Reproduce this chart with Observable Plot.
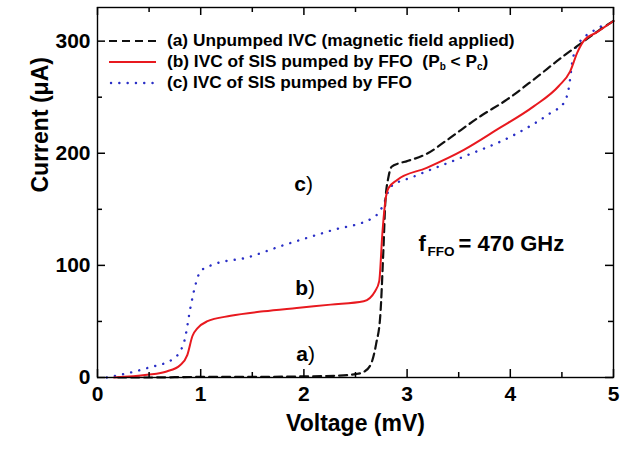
<!DOCTYPE html>
<html>
<head>
<meta charset="utf-8">
<script src="https://cdn.jsdelivr.net/npm/d3@7"></script>
<script src="https://cdn.jsdelivr.net/npm/@observablehq/plot@0.6"></script>
<style>
  body { margin: 0; background: #fff; }
  #wrap { position: relative; width: 632px; height: 450px; font-family: "Liberation Sans", Arial, sans-serif; font-weight: bold; color: #000; }
  #legend { position: absolute; left: 109px; top: 30px; font-size: 17.3px; line-height: 21px; }
  .row { display: flex; align-items: center; height: 21px; white-space: pre; }
  .row svg { width: 47px; height: 10px; margin-right: 11px; flex: none; }
  sub { font-size: 10px; vertical-align: -3px; line-height: 0; }
</style>
</head>
<body>
<div id="wrap">
  <div id="chart"></div>
  <div id="legend"></div>
</div>
<script>
// ---- Data ----
// (a) Unpumped IVC (magnetic field applied)
const voltsA = [0.2, 0.5, 1.0, 1.5, 2.0, 2.3, 2.5, 2.58, 2.65, 2.70, 2.74, 2.77, 2.79, 2.82, 2.85, 2.92, 3.0, 3.2, 3.39, 3.71, 3.97, 4.23, 4.52, 4.70, 4.85, 5.0];
const currA = [0, 0, 0.5, 0.5, 1, 1.5, 3, 5, 12, 30, 55, 113, 158, 179, 188, 191, 193, 200, 212, 233, 248, 266, 287, 299, 309, 318];
// (b) IVC of SIS pumped by FFO (Pb < Pc)
const voltsB = [0.16, 0.48, 0.67, 0.80, 0.87, 0.92, 0.97, 1.06, 1.29, 1.61, 1.93, 2.26, 2.58, 2.69, 2.73, 2.76, 2.79, 2.82, 2.90, 3.19, 3.55, 3.87, 4.23, 4.47, 4.58, 4.65, 4.71, 4.84, 5.0];
const currB = [0, 2.4, 5.4, 11, 20, 37, 44, 50, 55, 59, 62, 65, 68, 77, 86, 128, 158, 169, 176, 187, 203, 221, 242, 260, 273, 290, 300, 308, 318];
// (c) IVC of SIS pumped by FFO
const voltsC = [0.09, 0.48, 0.74, 0.84, 0.90, 0.95, 1.0, 1.13, 1.45, 1.77, 2.26, 2.68, 2.77, 2.84, 3.06, 3.55, 4.03, 4.39, 4.52, 4.57, 4.60, 4.64, 4.70, 4.84, 4.92];
const currC = [0, 8.4, 17, 32, 62, 83, 95, 101, 107, 117, 131, 143, 154, 170, 179, 197, 216, 236, 245, 260, 281, 295, 302, 311, 315];

const xTicks = [0, 1, 2, 3, 4, 5];
const xMinor = [0.5, 1.5, 2.5, 3.5, 4.5];
const yTicks = [0, 100, 200, 300];
const yMinor = [50, 150, 250];

const curveLabels = ["a", "b", "c"];
const curveLabelX = [2.04, 2.04, 2.02];
const curveLabelY = [21, 80, 172];

const freqX = 3.11, freqY = 119.5;
const legendLabels = [
  "(a) Unpumped IVC (magnetic field applied)",
  "(b) IVC of SIS pumped by FFO  (P<sub>b</sub> &lt; P<sub>c</sub>)",
  "(c) IVC of SIS pumped by FFO"
];

const colA = "#111111", colB = "#e8191f", colC = "#2a2fc6";

const toRows = (xs, ys) => xs.map((v, i) => ({v, c: ys[i]}));
const dataA = toRows(voltsA, currA);
const dataB = toRows(voltsB, currB);
const dataC = toRows(voltsC, currC);
const labelRows = curveLabels.map((t, i) => ({t, x: curveLabelX[i], y: curveLabelY[i]}));

const font = "Liberation Sans, Arial, sans-serif";

// plot geometry
const W = 632, H = 450, mL = 97, mR = 19, mT = 7, mB = 73;
const xDom = [0, 5], yDom = [0, 330];
const pxX = (xDom[1] - xDom[0]) / (W - mL - mR); // data units per pixel
const pxY = (yDom[1] - yDom[0]) / (H - mT - mB);

// inward ticks on all four sides (length in pixels, converted to data units)
const tickStyle = {stroke: "#000", strokeWidth: 1.5};
const xInTicks = (vals, len) => [
  Plot.ruleX(vals, {x: d => d, y1: yDom[0], y2: yDom[0] + len * pxY, ...tickStyle}),
  Plot.ruleX(vals, {x: d => d, y1: yDom[1], y2: yDom[1] - len * pxY, ...tickStyle})
];
const yInTicks = (vals, len) => [
  Plot.ruleY(vals, {y: d => d, x1: xDom[0], x2: xDom[0] + len * pxX, ...tickStyle}),
  Plot.ruleY(vals, {y: d => d, x1: xDom[1], x2: xDom[1] - len * pxX, ...tickStyle})
];

const chart = Plot.plot({
  width: W,
  height: H,
  marginLeft: mL,
  marginRight: mR,
  marginTop: mT,
  marginBottom: mB,
  x: {domain: xDom},
  y: {domain: yDom},
  style: {fontFamily: font, fontWeight: "bold", color: "#000", background: "#fff", overflow: "visible"},
  marks: [
    Plot.line(dataC, {x: "v", y: "c", stroke: colC, strokeWidth: 2.4, strokeDasharray: "0.1,8.2", strokeLinecap: "round", curve: "monotone-x"}),
    Plot.line(dataA, {x: "v", y: "c", stroke: colA, strokeWidth: 2.2, strokeDasharray: "8,5", curve: "monotone-x"}),
    Plot.line(dataB, {x: "v", y: "c", stroke: colB, strokeWidth: 2, curve: "monotone-x"}),

    Plot.text(labelRows, {x: "x", y: "y", text: "t", textAnchor: "end", fontSize: 21, fontWeight: "bold"}),
    Plot.text(labelRows, {x: "x", y: "y", text: () => ")", textAnchor: "start", fontSize: 21, fontWeight: "normal"}),

    Plot.text(["f"], {x: () => freqX, y: () => freqY, text: d => d, textAnchor: "start", fontSize: 22}),
    Plot.text(["FFO"], {x: () => freqX, y: () => freqY, text: d => d, textAnchor: "start", fontSize: 13.5, dx: 9, dy: 8}),
    Plot.text(["= 470 GHz"], {x: () => freqX, y: () => freqY, text: d => d, textAnchor: "start", fontSize: 22, dx: 40}),

    Plot.frame({stroke: "#000", strokeWidth: 1.4}),

    Plot.axisX(xTicks, {anchor: "bottom", tickSize: 0, tickPadding: 9, fontSize: 21, label: null}),
    Plot.axisY(yTicks, {anchor: "left", tickSize: 0, tickPadding: 7, fontSize: 21, label: null}),
    ...xInTicks(xTicks, 8),
    ...xInTicks(xMinor, 5),
    ...yInTicks(yTicks, 8),
    ...yInTicks(yMinor, 5),

    Plot.text(["Voltage (mV)"], {frameAnchor: "bottom", text: d => d, dy: 53, fontSize: 23}),
    Plot.text(["Current (\u03bcA)"], {frameAnchor: "left", text: d => d, dx: -57, rotate: -90, fontSize: 23})
  ]
});
document.getElementById("chart").appendChild(chart);

// Legend overlay
const legendStyles = [
  {stroke: colA, width: 2.2, dash: "8,5", cap: "butt"},
  {stroke: colB, width: 2, dash: null, cap: "butt"},
  {stroke: colC, width: 2.4, dash: "0.1,8.2", cap: "round"}
];
const legend = document.getElementById("legend");
legendLabels.forEach((lab, i) => {
  const s = legendStyles[i];
  const row = document.createElement("div");
  row.className = "row";
  row.innerHTML = `<svg viewBox="0 0 47 10"><line x1="${s.cap === "round" ? 2 : 0}" y1="5" x2="47" y2="5" stroke="${s.stroke}" stroke-width="${s.width}" ${s.dash ? `stroke-dasharray="${s.dash}"` : ""} stroke-linecap="${s.cap}"/></svg><span>${lab}</span>`;
  legend.appendChild(row);
});
</script>
</body>
</html>
